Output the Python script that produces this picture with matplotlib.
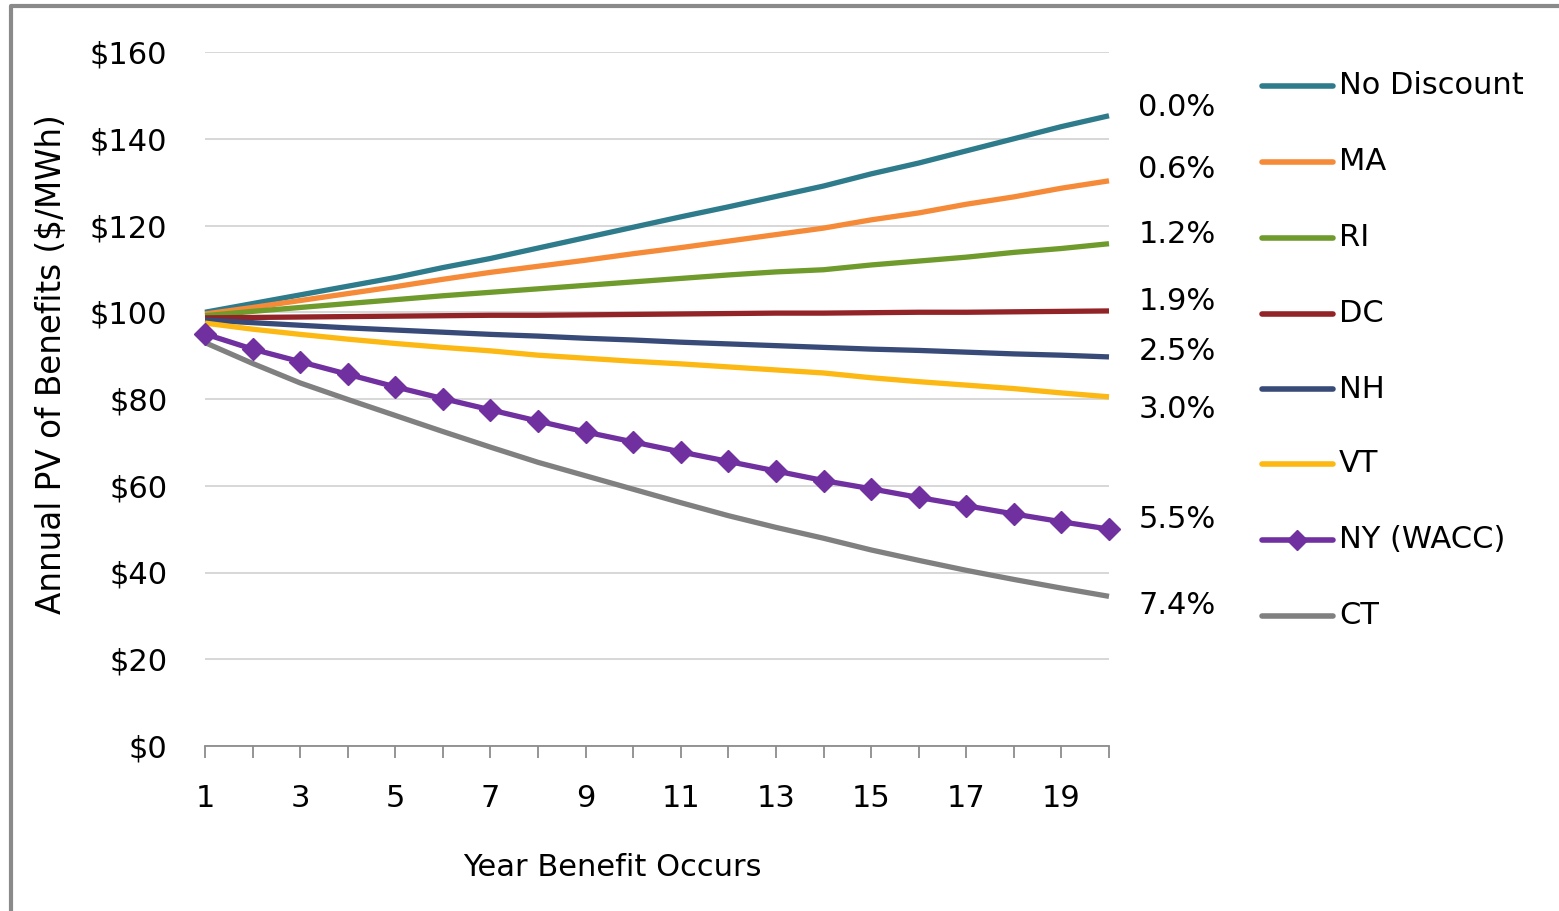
import matplotlib
matplotlib.use("Agg")
import matplotlib.pyplot as plt
from matplotlib.lines import Line2D

plt.rcParams['font.family'] = ['DejaVu Sans']

years = list(range(1, 21))
no_discount = [100, 102.0, 104.0, 106.0, 108.0, 110.3, 112.4, 114.8, 117.2, 119.6,
               122.0, 124.3, 126.7, 129.1, 131.9, 134.4, 137.2, 140.0, 142.8, 145.3]
ma = [99.6, 101.1, 102.7, 104.3, 105.9, 107.6, 109.2, 110.6, 112.0, 113.5,
      114.9, 116.4, 117.9, 119.4, 121.3, 122.9, 124.9, 126.6, 128.6, 130.3]
ri = [99.2, 100.2, 101.1, 102.0, 102.9, 103.8, 104.6, 105.4, 106.2, 107.0,
      107.8, 108.6, 109.3, 109.8, 110.9, 111.8, 112.7, 113.8, 114.7, 115.8]
dc = [98.7, 98.8, 98.9, 99.0, 99.1, 99.2, 99.3, 99.3, 99.4, 99.5,
      99.6, 99.7, 99.8, 99.8, 99.9, 100.0, 100.0, 100.1, 100.2, 100.3]
nh = [98.2, 97.6, 97.0, 96.4, 95.9, 95.4, 94.9, 94.5, 94.0, 93.6,
      93.1, 92.7, 92.3, 91.9, 91.5, 91.2, 90.8, 90.4, 90.1, 89.7]
vt = [97.5, 96.1, 94.9, 93.8, 92.8, 91.9, 91.1, 90.1, 89.4, 88.7,
      88.1, 87.4, 86.7, 86.0, 84.9, 84.0, 83.2, 82.4, 81.4, 80.5]
ny = [95.0, 91.5, 88.6, 85.7, 82.8, 80.1, 77.5, 74.9, 72.4, 70.1,
      67.8, 65.6, 63.4, 61.2, 59.3, 57.3, 55.4, 53.5, 51.7, 50.0]
ct = [93.0, 88.2, 83.7, 79.9, 76.2, 72.5, 68.9, 65.4, 62.3, 59.2,
      56.1, 53.1, 50.4, 47.9, 45.2, 42.8, 40.5, 38.4, 36.4, 34.5]

series_names = ["No Discount", "MA", "RI", "DC", "NH", "VT", "NY (WACC)", "CT"]
series_values = [no_discount, ma, ri, dc, nh, vt, ny, ct]
colors = ["#2e7b8c", "#f58a38", "#6f9a2c", "#922327", "#384a77", "#fcb813", "#7030a0", "#808080"]
rate_labels = ["0.0%", "0.6%", "1.2%", "1.9%", "2.5%", "3.0%", "5.5%", "7.4%"]
y_ticks = [0, 20, 40, 60, 80, 100, 120, 140, 160]
x_tick_labels = [1, 3, 5, 7, 9, 11, 13, 15, 17, 19]

W, H = 1559, 911
FS = 22
fig = plt.figure(figsize=(W / 100, H / 100), dpi=100)
ax = fig.add_axes([205 / W, 1 - 746 / H, (1109 - 205) / W, (746 - 52) / H])

for name, vals, col in zip(series_names, series_values, colors):
    if name.startswith("NY"):
        ax.plot(years, vals, color=col, lw=3.8, marker="D", ms=11, zorder=3, clip_on=False)
    else:
        ax.plot(years, vals, color=col, lw=3.8, solid_capstyle="butt", zorder=2, clip_on=False)

ax.set_xlim(1, 20)
ax.set_ylim(0, 160)
ax.set_yticks(y_ticks)
ax.set_yticklabels([f"${v}" for v in y_ticks], fontsize=FS)
ax.set_xticks(years)
ax.set_xticklabels([str(y) if y in x_tick_labels else "" for y in years], fontsize=FS)
ax.tick_params(axis="y", length=0, pad=27)
ax.tick_params(axis="x", length=8.6, width=1.3, color="#8c8c8c", pad=19)
ax.grid(axis="y", color="#d4d4d4", lw=1.3)
ax.set_axisbelow(True)
for s in ["top", "right", "left"]:
    ax.spines[s].set_visible(False)
ax.spines["bottom"].set_color("#8c8c8c")
ax.spines["bottom"].set_linewidth(1.3)
ax.spines["bottom"].set_zorder(1)

fig.text(612 / W, 1 - 868 / H, "Year Benefit Occurs", fontsize=FS, ha="center", va="center")
fig.text(51 / W, 1 - 364 / H, "Annual PV of Benefits ($/MWh)", fontsize=23.5, ha="center",
         va="center", rotation=90)

rate_y = [107, 170, 235, 302, 352, 409, 520, 605]
for lab, yy in zip(rate_labels, rate_y):
    fig.text(1177 / W, 1 - yy / H, lab, fontsize=FS, ha="center", va="center")

leg_y = [86, 162, 238, 314, 389, 464, 540, 616]
for name, col, yy in zip(series_names, colors, leg_y):
    yf = 1 - yy / H
    fig.add_artist(Line2D([1262 / W, 1333 / W], [yf, yf], color=col, lw=4,
                          solid_capstyle="round", transform=fig.transFigure))
    if name.startswith("NY"):
        fig.add_artist(Line2D([1297 / W], [yf], color=col, marker="D", ms=10,
                              transform=fig.transFigure))
    fig.text(1339 / W, yf, name, fontsize=FS, ha="left", va="center")

# outer frame
fig.add_artist(Line2D([11 / W, 11 / W, 1.0], [0, 1 - 6 / H, 1 - 6 / H], color="#8a8a8a", lw=3,
                      transform=fig.transFigure))

fig.savefig("out.png", dpi=100)
